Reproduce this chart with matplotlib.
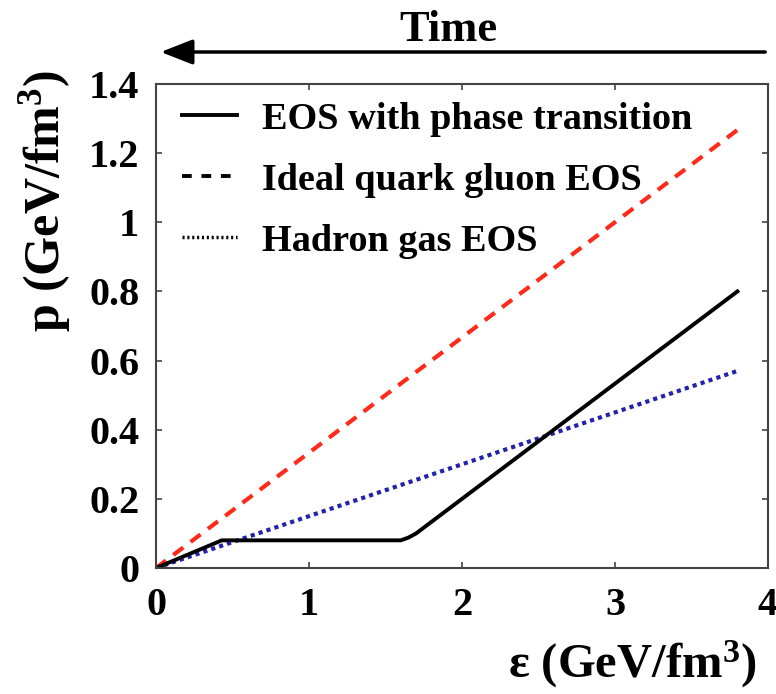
import matplotlib
matplotlib.use("Agg")
import matplotlib.pyplot as plt
from matplotlib import rcParams
from matplotlib.lines import Line2D
import numpy as np

# Fonts / style
rcParams['font.family'] = 'Liberation Serif'
rcParams['font.weight'] = 'bold'
rcParams['mathtext.fontset'] = 'custom'
rcParams['mathtext.rm'] = 'Liberation Serif:bold'
rcParams['mathtext.it'] = 'Liberation Serif:bold'
rcParams['mathtext.bf'] = 'Liberation Serif:bold'
rcParams['xtick.direction'] = 'in'
rcParams['ytick.direction'] = 'in'
rcParams['xtick.top'] = True
rcParams['ytick.right'] = True

# Data (energy density eps in GeV/fm^3, pressure p in GeV/fm^3)
eps_pt = [0.0, 0.43, 1.60, 1.65, 1.70, 3.80]
p_pt = [0.0, 0.080, 0.080, 0.088, 0.100, 0.800]

eps_qgp = [0.0, 3.80]
p_qgp = [0.0, 1.267]

eps_had = [0.0, 3.80]
p_had = [0.0, 0.57]

labels = ["EOS with phase transition", "Ideal quark gluon EOS", "Hadron gas EOS"]
xticks = [0, 1, 2, 3, 4]
yticks = [0, 0.2, 0.4, 0.6, 0.8, 1.0, 1.2, 1.4]
yticklabels = ["0", "0.2", "0.4", "0.6", "0.8", "1", "1.2", "1.4"]

fig = plt.figure(figsize=(7.76, 6.94), dpi=100)
ax = fig.add_axes([156/776, 1 - 568/694, (768 - 156)/776, (568 - 84)/694])

ax.plot(eps_qgp, p_qgp, color='#ff2a1a', lw=3.0, ls=(0, (3, 2.2)))
ax.plot(eps_had, p_had, color='#2222aa', lw=3.0, ls=(0, (1, 1)))
ax.plot(eps_pt, p_pt, color='black', lw=2.8)

ax.set_xlim(0, 4)
ax.set_ylim(0, 1.4)
ax.set_xticks(xticks)
ax.set_yticks(yticks)
ax.set_yticklabels(yticklabels)
ax.tick_params(labelsize=29, length=4, width=1.2, color='#444444')
ax.tick_params(axis='x', pad=14)
ax.tick_params(axis='y', pad=12)
for s in ax.spines.values():
    s.set_linewidth(1.5)
    s.set_color('#444444')

handles = [Line2D([], [], color='black', lw=2.8),
           Line2D([], [], color='black', lw=2.8, ls=(0, (2.5, 2.5))),
           Line2D([], [], color='black', lw=2.5, ls=(0, (0.6, 0.8)))]
ax.legend(handles, labels, loc='upper left', frameon=False, fontsize=27.5,
          handlelength=1.45, handletextpad=0.65, labelspacing=0.68,
          borderaxespad=0.06, bbox_to_anchor=(0.013, 1.0))

# axis labels placed as in the original
fig.text(45/776, 1 - 70/694, r'p (GeV/fm$^{3}$)', rotation=90, ha='center', va='top',
         fontsize=36)
fig.text(508/776, 1 - 664/694, r'ε (GeV/fm$^{3}$)', ha='left', va='center',
         fontsize=35)

# Time arrow
fig.text(448/776, 1 - 30/694, 'Time', ha='center', va='center', fontsize=32)
fig.add_artist(matplotlib.patches.FancyArrowPatch(
    (768/776, 1 - 52/694), (158/776, 1 - 52/694), transform=fig.transFigure,
    arrowstyle='-|>,head_length=1.4,head_width=0.55', mutation_scale=14,
    lw=2.5, color='black'))

fig.savefig('out.png', dpi=100)
